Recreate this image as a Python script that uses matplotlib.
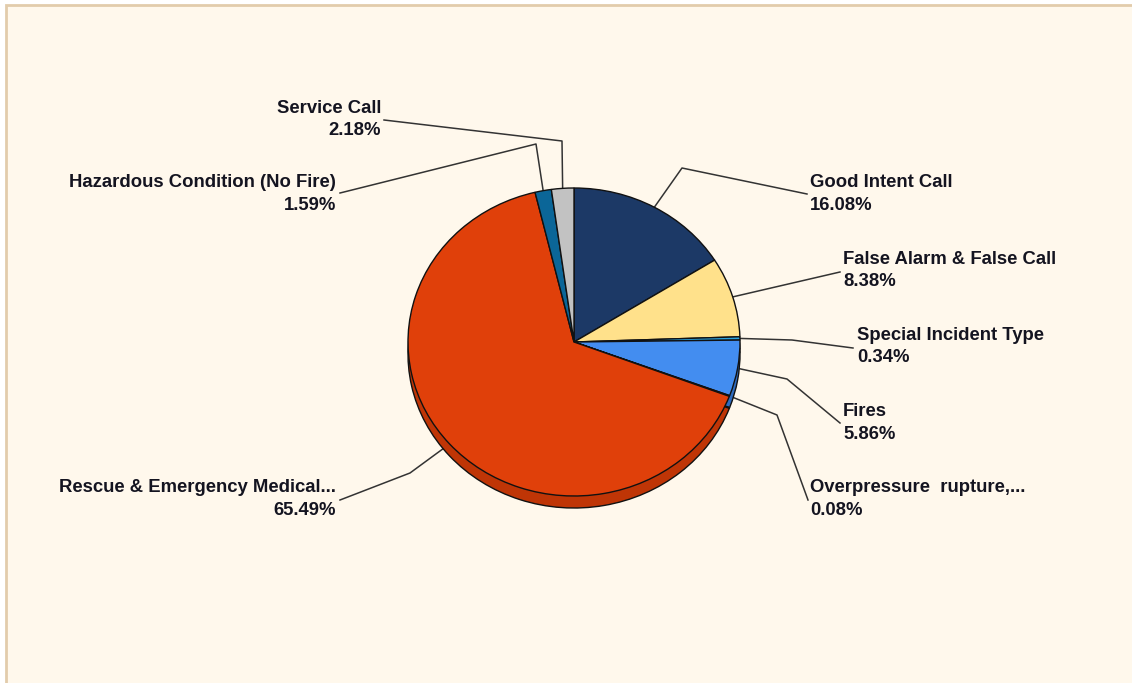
import numpy as np
import matplotlib
matplotlib.use("Agg")
import matplotlib.pyplot as plt
from matplotlib.patches import Rectangle

# ---- data ----
categories = ["Good Intent Call", "False Alarm & False Call", "Special Incident Type",
              "Fires", "Overpressure  rupture,...", "Rescue & Emergency Medical...",
              "Hazardous Condition (No Fire)", "Service Call"]
shares = [16.08, 8.38, 0.34, 5.86, 0.08, 65.49, 1.59, 2.18]
pct_labels = ["16.08%", "8.38%", "0.34%", "5.86%", "0.08%", "65.49%", "1.59%", "2.18%"]

# ---- styles ----
colors = ["#1C3966", "#FFE18B", "#2AA2DE", "#438DF0", "#2262A8", "#E0400A", "#0B6698", "#C2C2C2"]
side_colors = ["#122848", "#D8B860", "#1C7AAA", "#2F6CC0", "#174A80", "#BF3506", "#084C72", "#999999"]

W, H = 1132, 683
fig = plt.figure(figsize=(W / 100, H / 100), dpi=100, facecolor="white")

# overlay axes in pixel coordinates
ax0 = fig.add_axes([0, 0, 1, 1])
ax0.set_xlim(0, W)
ax0.set_ylim(H, 0)
ax0.axis("off")
ax0.add_patch(Rectangle((6, 5), W + 20, H + 20, facecolor="#FFF8EC",
                        edgecolor="#E2CCAB", linewidth=2, zorder=0))

# pie axes: top face centred at (574,342), rx=166, ry=154 pixels
cx, cy, rx, ry = 574, 342, 166, 154
ylo = -1.12
axp = fig.add_axes([(cx - rx) / W, (H - (cy - ylo * ry)) / H, 2 * rx / W, (1 - ylo) * ry / H])
axp.patch.set_alpha(0)

depth = 0.078
wp = dict(edgecolor="#111111", linewidth=1.0)
axp.pie(shares, colors=side_colors, startangle=90, counterclock=False,
        center=(0, -depth), radius=1, wedgeprops=wp)
wedges, _ = axp.pie(shares, colors=colors, startangle=90, counterclock=False,
                    center=(0, 0), radius=1, wedgeprops=wp)
axp.set_aspect("auto")
axp.set_xlim(-1, 1)
axp.set_ylim(ylo, 1)
axp.axis("off")
for w in axp.patches:
    w.set_clip_on(False)

# ---- labels & leaders (layout only) ----
# (text x, text y-centre, ha, elbow point or None, attach point)
layout = [
    (810, 194, "left", (682, 168), (807, 194)),
    (843, 270.5, "left", None, (840, 272)),
    (857, 346.5, "left", (792, 340), (853, 348)),
    (843, 423, "left", (787, 379), (840, 423)),
    (810, 499, "left", (777, 415), (808, 500)),
    (336, 499, "right", (410, 473), (340, 500)),
    (336, 194, "right", (536, 144), (340, 193)),
    (381, 119.5, "right", (562, 141), (384, 120)),
]

to_pix = lambda p: ax0.transData.inverted().transform(axp.transData.transform(p))
for w, name, pct, (tx, ty, ha, elbow, attach) in zip(wedges, categories, pct_labels, layout):
    mid = np.deg2rad((w.theta1 + w.theta2) / 2)
    edge = to_pix((np.cos(mid), np.sin(mid)))
    pts = [edge] + ([elbow] if elbow else []) + [attach]
    xs, ys = zip(*pts)
    ax0.plot(xs, ys, color="#333333", linewidth=1.1, zorder=1)
    ax0.text(tx, ty, f"{name}\n{pct}", ha=ha, va="center", multialignment=ha,
             fontsize=13.3, fontweight="bold", family=["Liberation Sans", "DejaVu Sans"],
             color="#141420", linespacing=1.42, zorder=3)

fig.savefig("out.png", dpi=100, facecolor=fig.get_facecolor())
